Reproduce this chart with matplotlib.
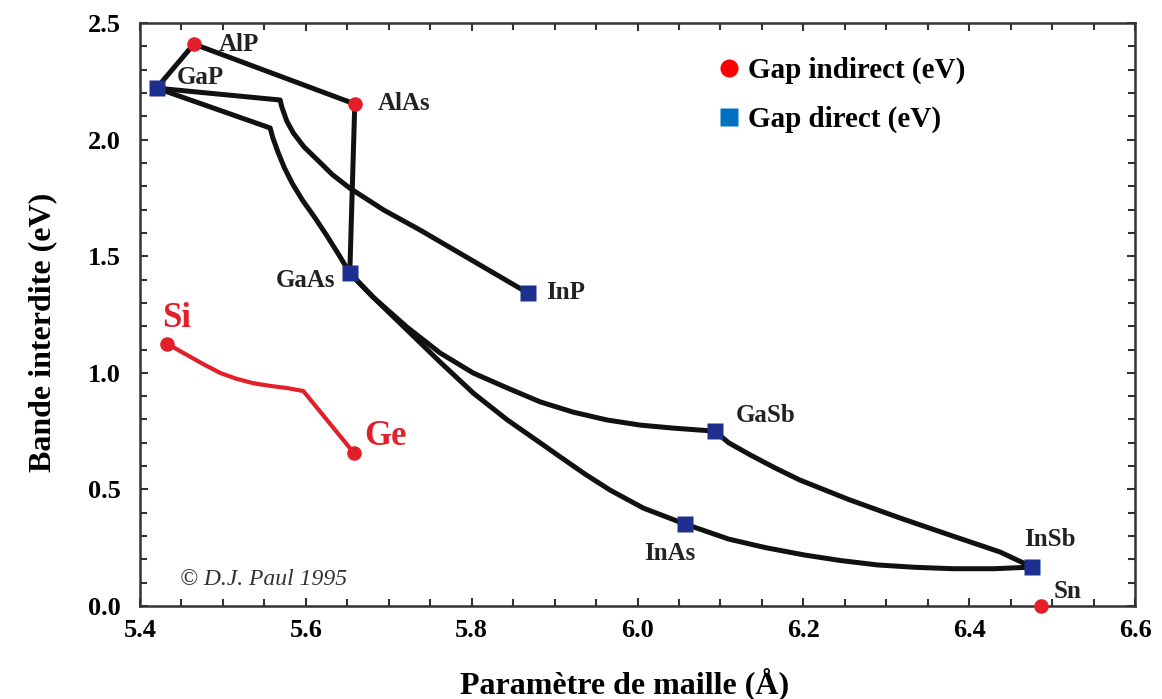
import matplotlib
matplotlib.use("Agg")
import matplotlib.pyplot as plt
from matplotlib.lines import Line2D
from matplotlib.ticker import MultipleLocator

plt.rcParams['font.family'] = ['Liberation Serif', 'DejaVu Serif']

# lattice constant (Å) / band gap (eV) of the end compounds
indirect_names = ['AlP', 'AlAs', 'Sn', 'Si', 'Ge']
indirect_a = [5.465, 5.659, 6.487, 5.433, 5.658]
indirect_gap = [2.41, 2.153, 0.0, 1.124, 0.656]

direct_names = ['GaP', 'GaAs', 'InP', 'GaSb', 'InAs', 'InSb']
direct_a = [5.420, 5.653, 5.868, 6.093, 6.057, 6.476]
direct_gap = [2.221, 1.428, 1.342, 0.750, 0.352, 0.167]

# alloy curves between compounds
alp_gap_a = [5.465, 5.420]
alp_gap_g = [2.41, 2.221]

alp_alas_a = [5.465, 5.659]
alp_alas_g = [2.41, 2.153]

alas_gaas_a = [5.659, 5.656, 5.653]
alas_gaas_g = [2.153, 1.792, 1.428]

gap_inp_a = [5.420, 5.569, 5.571, 5.577, 5.585, 5.598, 5.614, 5.632, 5.653,
             5.694, 5.738, 5.804, 5.868]
gap_inp_g = [2.221, 2.170, 2.140, 2.080, 2.028, 1.968, 1.913, 1.850, 1.792,
             1.698, 1.612, 1.475, 1.342]

gap_gaas_a = [5.420, 5.557, 5.560, 5.566, 5.574, 5.584, 5.596, 5.610, 5.625,
              5.640, 5.653]
gap_gaas_g = [2.221, 2.050, 2.010, 1.950, 1.880, 1.810, 1.740, 1.670, 1.590,
              1.505, 1.428]

gaas_gasb_a = [5.653, 5.681, 5.722, 5.762, 5.802, 5.843, 5.883, 5.922,
               5.963, 6.003, 6.043, 6.093]
gaas_gasb_g = [1.428, 1.325, 1.196, 1.085, 0.999, 0.935, 0.875, 0.832,
               0.798, 0.776, 0.763, 0.750]

gaas_inas_a = [5.653, 5.681, 5.722, 5.762, 5.802, 5.843, 5.883, 5.907,
               5.937, 5.967, 6.007, 6.057]
gaas_inas_g = [1.428, 1.325, 1.184, 1.046, 0.913, 0.798, 0.699, 0.639,
               0.565, 0.497, 0.420, 0.352]

inas_insb_a = [6.057, 6.110, 6.155, 6.201, 6.245, 6.290, 6.335, 6.381, 6.430,
               6.476]
inas_insb_g = [0.352, 0.287, 0.250, 0.219, 0.195, 0.176, 0.166, 0.160, 0.160,
               0.167]

gasb_insb_a = [6.093, 6.110, 6.136, 6.166, 6.196, 6.256, 6.317, 6.377, 6.437,
               6.476]
gasb_insb_g = [0.750, 0.700, 0.648, 0.592, 0.540, 0.455, 0.377, 0.304, 0.232,
               0.167]

si_ge_a = [5.433, 5.457, 5.477, 5.497, 5.516, 5.536, 5.557, 5.577, 5.597, 5.658]
si_ge_g = [1.124, 1.076, 1.036, 0.999, 0.975, 0.956, 0.944, 0.935, 0.922, 0.656]

black_curves = [
    (alp_gap_a, alp_gap_g), (alp_alas_a, alp_alas_g), (alas_gaas_a, alas_gaas_g),
    (gap_inp_a, gap_inp_g), (gap_gaas_a, gap_gaas_g), (gaas_gasb_a, gaas_gasb_g),
    (gaas_inas_a, gaas_inas_g), (inas_insb_a, inas_insb_g), (gasb_insb_a, gasb_insb_g),
]

RED = '#e3202a'
NAVY = '#1f2f8f'
TXT = '#222222'

fig = plt.figure(figsize=(11.62, 6.99), dpi=100)
ax = fig.add_axes([0.1205, 0.133, 0.8563, 0.834])

for xs, ys in black_curves:
    ax.plot(xs, ys, color='#111111', lw=3.6, solid_capstyle='round',
            solid_joinstyle='round', zorder=2)
ax.plot(si_ge_a, si_ge_g, color=RED, lw=3.0, solid_capstyle='round',
        solid_joinstyle='round', zorder=2)

ax.plot(indirect_a, indirect_gap, 'o', color=RED, ms=10.5, mec='none', zorder=4,
        clip_on=False)
ax.plot(direct_a, direct_gap, 's', color=NAVY, ms=11.5, mec='none', zorder=4)

# compound labels: (dx, dy, ha)
label_pos = {
    'AlP': (0.030, 0.0, 'left'), 'GaP': (0.024, 0.047, 'left'),
    'AlAs': (0.028, 0.0, 'left'), 'Sn': (0.015, 0.064, 'left'),
    'GaAs': (-0.018, -0.030, 'right'), 'InP': (0.022, 0.004, 'left'),
    'GaSb': (0.026, 0.069, 'left'), 'InAs': (-0.018, -0.125, 'center'),
    'InSb': (-0.010, 0.120, 'left'),
}
for names, xs, ys in [(indirect_names, indirect_a, indirect_gap),
                      (direct_names, direct_a, direct_gap)]:
    for n, x, y in zip(names, xs, ys):
        if n in label_pos:
            dx, dy, ha = label_pos[n]
            ax.text(x + dx, y + dy, n, ha=ha, va='center', fontsize=18,
                    fontweight='bold', color=TXT)

ax.text(5.427, 1.235, 'Si', color=RED, fontsize=25, fontweight='bold',
        ha='left', va='center')
ax.text(5.670, 0.725, 'Ge', color=RED, fontsize=25, fontweight='bold',
        ha='left', va='center')
ax.text(5.448, 0.115, '© D.J. Paul 1995', fontsize=17, style='italic',
        color='#333333', ha='left', va='center')

handles = [
    Line2D([], [], marker='o', ls='none', color='#ff0000', ms=13, mec='none'),
    Line2D([], [], marker='s', ls='none', color='#0070c0', ms=13, mec='none'),
]
ax.legend(handles, ['Gap indirect (eV)', 'Gap direct (eV)'], loc='upper left',
          bbox_to_anchor=(0.555, 0.987), frameon=False, handlelength=0.7,
          handletextpad=0.3, labelspacing=0.75,
          prop={'size': 21, 'weight': 'bold'})

ax.set_xlim(5.4, 6.6)
ax.set_ylim(0, 2.5)
ax.xaxis.set_major_locator(MultipleLocator(0.2))
ax.xaxis.set_minor_locator(MultipleLocator(0.05))
ax.yaxis.set_major_locator(MultipleLocator(0.5))
ax.yaxis.set_minor_locator(MultipleLocator(0.1))
ax.xaxis.set_major_formatter(plt.FormatStrFormatter('%.1f'))
ax.yaxis.set_major_formatter(plt.FormatStrFormatter('%.1f'))
ax.tick_params(which='both', direction='in', top=True, right=True,
               width=1.5, color='#333333', labelsize=19)
ax.tick_params(which='major', length=6)
ax.tick_params(which='minor', length=5)
ax.tick_params(axis='y', pad=14)
ax.tick_params(axis='x', pad=9)
for lbl in ax.get_xticklabels() + ax.get_yticklabels():
    lbl.set_fontweight('bold')
for sp in ax.spines.values():
    sp.set_linewidth(1.8)
    sp.set_color('#333333')

ax.set_xlabel('Paramètre de maille (Å)', fontsize=23, fontweight='bold',
              labelpad=19, x=0.487)
ax.set_ylabel('Bande interdite (eV)', fontsize=23, fontweight='bold',
              labelpad=22, y=0.47)

fig.savefig('out.png', dpi=100)
